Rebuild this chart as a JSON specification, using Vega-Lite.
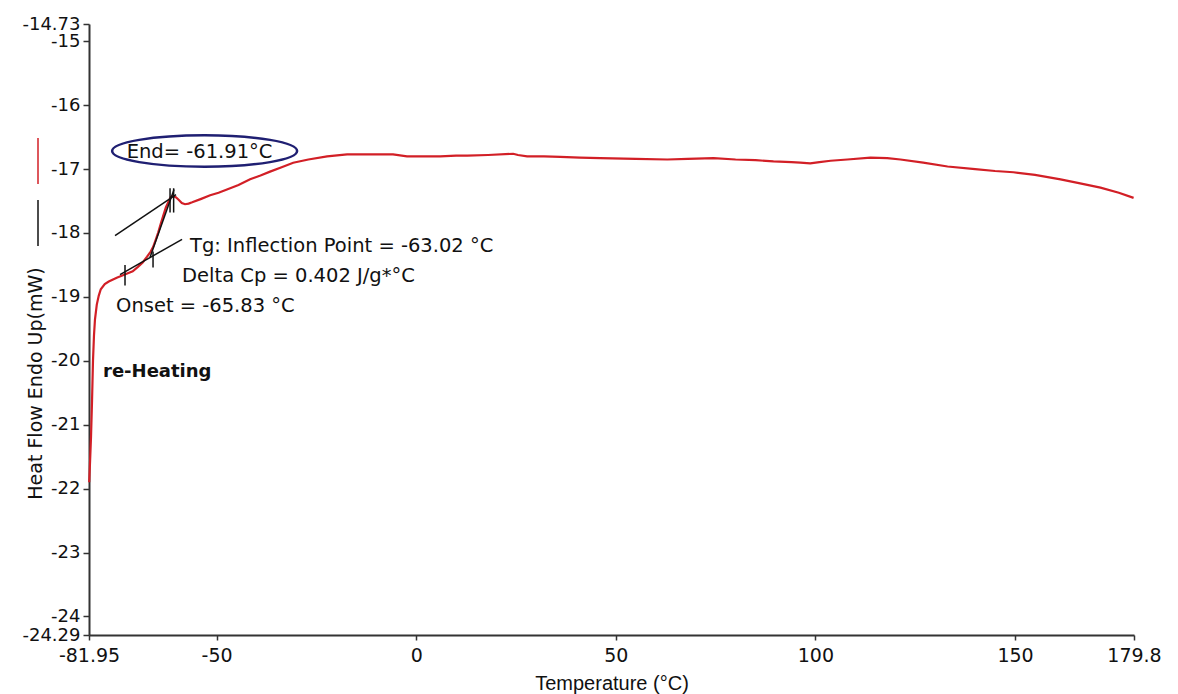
{
  "$schema": "https://vega.github.io/schema/vega-lite/v6.json",
  "width": 1045,
  "height": 611,
  "autosize": {"type": "none"},
  "padding": {"left": 89, "top": 24, "right": 44, "bottom": 59},
  "background": "white",
  "config": {"view": {"stroke": null}, "font": "DejaVu Sans"},
  "datasets": {
    "curve": [
      {"t": -81.9, "hf": -21.9}, {"t": -81.7, "hf": -21.6}, {"t": -81.45, "hf": -21.2}, {"t": -81.2, "hf": -20.65},
      {"t": -80.95, "hf": -20.0}, {"t": -80.7, "hf": -19.6}, {"t": -80.45, "hf": -19.35}, {"t": -80.0, "hf": -19.12},
      {"t": -79.5, "hf": -18.98}, {"t": -79.0, "hf": -18.88}, {"t": -78.0, "hf": -18.8}, {"t": -77.0, "hf": -18.76},
      {"t": -75.0, "hf": -18.7}, {"t": -73.0, "hf": -18.65}, {"t": -71.0, "hf": -18.6}, {"t": -69.7, "hf": -18.53},
      {"t": -68.5, "hf": -18.46}, {"t": -67.4, "hf": -18.37}, {"t": -66.5, "hf": -18.29}, {"t": -65.9, "hf": -18.22},
      {"t": -65.2, "hf": -18.1}, {"t": -64.6, "hf": -17.99}, {"t": -64.0, "hf": -17.86}, {"t": -63.4, "hf": -17.74},
      {"t": -62.7, "hf": -17.6}, {"t": -62.1, "hf": -17.52}, {"t": -61.5, "hf": -17.44}, {"t": -61.0, "hf": -17.42},
      {"t": -60.2, "hf": -17.44}, {"t": -59.5, "hf": -17.48}, {"t": -58.7, "hf": -17.53}, {"t": -57.9, "hf": -17.55},
      {"t": -57.0, "hf": -17.54}, {"t": -56.1, "hf": -17.52}, {"t": -54.0, "hf": -17.47}, {"t": -51.6, "hf": -17.41},
      {"t": -49.5, "hf": -17.37}, {"t": -47.4, "hf": -17.32}, {"t": -44.5, "hf": -17.25}, {"t": -41.6, "hf": -17.16},
      {"t": -39.0, "hf": -17.1}, {"t": -36.6, "hf": -17.04}, {"t": -33.7, "hf": -16.97}, {"t": -30.8, "hf": -16.9},
      {"t": -27.0, "hf": -16.85}, {"t": -22.3, "hf": -16.8}, {"t": -17.3, "hf": -16.77}, {"t": -10.0, "hf": -16.77},
      {"t": -5.8, "hf": -16.77}, {"t": -2.3, "hf": -16.8}, {"t": 2.0, "hf": -16.8}, {"t": 6.0, "hf": -16.8},
      {"t": 10.0, "hf": -16.79}, {"t": 12.8, "hf": -16.79}, {"t": 18.0, "hf": -16.78}, {"t": 24.3, "hf": -16.76},
      {"t": 25.5, "hf": -16.78}, {"t": 27.8, "hf": -16.8}, {"t": 32.0, "hf": -16.8}, {"t": 36.1, "hf": -16.81},
      {"t": 41.0, "hf": -16.82}, {"t": 46.1, "hf": -16.83}, {"t": 55.0, "hf": -16.84}, {"t": 62.9, "hf": -16.85},
      {"t": 68.0, "hf": -16.84}, {"t": 74.5, "hf": -16.83}, {"t": 80.0, "hf": -16.85}, {"t": 85.0, "hf": -16.86},
      {"t": 89.5, "hf": -16.88}, {"t": 94.0, "hf": -16.89}, {"t": 96.2, "hf": -16.9}, {"t": 98.7, "hf": -16.91},
      {"t": 101.0, "hf": -16.89}, {"t": 103.8, "hf": -16.87}, {"t": 108.0, "hf": -16.85}, {"t": 113.8, "hf": -16.82},
      {"t": 118.0, "hf": -16.83}, {"t": 121.3, "hf": -16.85}, {"t": 127.0, "hf": -16.9}, {"t": 133.1, "hf": -16.96},
      {"t": 140.0, "hf": -17.0}, {"t": 145.0, "hf": -17.03}, {"t": 149.6, "hf": -17.05}, {"t": 155.0, "hf": -17.09},
      {"t": 161.4, "hf": -17.16}, {"t": 166.0, "hf": -17.22}, {"t": 171.4, "hf": -17.29}, {"t": 176.0, "hf": -17.37},
      {"t": 179.7, "hf": -17.45}
    ],
    "lines": [
      {"t1": -75.43, "h1": -18.04, "t2": -60.15, "h2": -17.4},
      {"t1": -74.18, "h1": -18.65, "t2": -58.64, "h2": -18.1},
      {"t1": -66.66, "h1": -18.38, "t2": -60.65, "h2": -17.32},
      {"t1": -72.93, "h1": -18.5, "t2": -72.93, "h2": -18.82},
      {"t1": -65.91, "h1": -18.29, "t2": -65.91, "h2": -18.54},
      {"t1": -61.65, "h1": -17.3, "t2": -61.65, "h2": -17.68},
      {"t1": -60.75, "h1": -17.3, "t2": -60.75, "h2": -17.68}
    ]
  },
  "layer": [
    {
      "data": {"name": "curve"},
      "mark": {"type": "line", "strokeWidth": 2.2, "clip": false},
      "encoding": {
        "x": {
          "field": "t", "type": "quantitative",
          "scale": {"domain": [-81.95, 179.8], "nice": false, "zero": false},
          "axis": {
            "title": "Temperature (°C)",
            "values": [-81.95, -50, 0, 50, 100, 150, 179.8],
            "labelExpr": "'' + datum.value",
            "labelFlush": false,
            "labelOverlap": false,
            "grid": false,
            "domainColor": "#333333", "domainWidth": 2,
            "tickColor": "#333333", "tickWidth": 1.5, "tickSize": 5,
            "labelFont": "DejaVu Sans", "labelFontSize": 19, "labelColor": "#111111", "labelPadding": 6,
            "titleFont": "Liberation Sans", "titleFontSize": 20, "titleFontWeight": "normal", "titleColor": "#111111",
            "titleBaseline": "middle", "titleY": 48
          }
        },
        "y": {
          "field": "hf", "type": "quantitative",
          "scale": {"domain": [-24.29, -14.73], "nice": false, "zero": false},
          "axis": {
            "title": "Heat Flow Endo Up(mW)",
            "values": [-14.73, -15, -16, -17, -18, -19, -20, -21, -22, -23, -24, -24.29],
            "labelExpr": "'' + datum.value",
            "labelFlush": false,
            "labelOverlap": false,
            "grid": false,
            "domainColor": "#333333", "domainWidth": 2,
            "tickColor": "#333333", "tickWidth": 1.5, "tickSize": 6,
            "labelFont": "DejaVu Sans", "labelFontSize": 18, "labelColor": "#111111", "labelPadding": 3,
            "titleFont": "DejaVu Sans", "titleFontSize": 19, "titleFontWeight": "normal", "titleColor": "#111111",
            "titleAngle": -90, "titleAlign": "center", "titleBaseline": "middle", "titleX": -54, "titleY": 359
          }
        },
        "color": {
          "datum": "re-Heating",
          "scale": {"domain": ["re-Heating", "analysis"], "range": ["#d21f26", "#111111"]},
          "legend": {
            "orient": "none", "legendX": -75, "legendY": 113, "title": null,
            "symbolType": "M0,-1L0,1", "symbolSize": 2116, "symbolStrokeWidth": 1.5,
            "labelExpr": "''", "labelFontSize": 1, "rowPadding": 10, "padding": 0
          }
        }
      }
    },
    {
      "data": {"name": "lines"},
      "mark": {"type": "rule", "strokeWidth": 1.5},
      "encoding": {
        "x": {"field": "t1", "type": "quantitative"},
        "y": {"field": "h1", "type": "quantitative"},
        "x2": {"field": "t2"},
        "y2": {"field": "h2"},
        "color": {"datum": "analysis"}
      }
    },
    {
      "data": {"values": [{"t": -52.99, "hf": -16.717}]},
      "mark": {
        "type": "point", "shape": "M-1,0A1,0.17,0,1,0,1,0A1,0.17,0,1,0,-1,0Z",
        "size": 34225, "filled": false, "stroke": "#1f1f72", "strokeWidth": 2.5, "opacity": 1
      },
      "encoding": {
        "x": {"field": "t", "type": "quantitative"},
        "y": {"field": "hf", "type": "quantitative"}
      }
    },
    {
      "data": {"values": [{"t": -54.26, "hf": -16.725, "label": "End= -61.91°C"}]},
      "mark": {"type": "text", "align": "center", "baseline": "middle", "font": "DejaVu Sans", "fontSize": 19.5, "color": "#111111"},
      "encoding": {
        "x": {"field": "t", "type": "quantitative"},
        "y": {"field": "hf", "type": "quantitative"},
        "text": {"field": "label"}
      }
    },
    {
      "data": {"values": [
        {"t": -56.64, "hf": -18.2, "label": "Tg: Inflection Point = -63.02 °C"},
        {"t": -58.64, "hf": -18.67, "label": "Delta Cp = 0.402 J/g*°C"},
        {"t": -75.18, "hf": -19.15, "label": "Onset = -65.83 °C"}
      ]},
      "mark": {"type": "text", "align": "left", "baseline": "middle", "font": "DejaVu Sans", "fontSize": 19.5, "color": "#111111"},
      "encoding": {
        "x": {"field": "t", "type": "quantitative"},
        "y": {"field": "hf", "type": "quantitative"},
        "text": {"field": "label"}
      }
    },
    {
      "data": {"values": [{"t": -78.44, "hf": -20.17, "label": "re-Heating"}]},
      "mark": {"type": "text", "align": "left", "baseline": "middle", "font": "DejaVu Sans", "fontSize": 18, "fontWeight": "bold", "color": "#111111"},
      "encoding": {
        "x": {"field": "t", "type": "quantitative"},
        "y": {"field": "hf", "type": "quantitative"},
        "text": {"field": "label"}
      }
    }
  ]
}
